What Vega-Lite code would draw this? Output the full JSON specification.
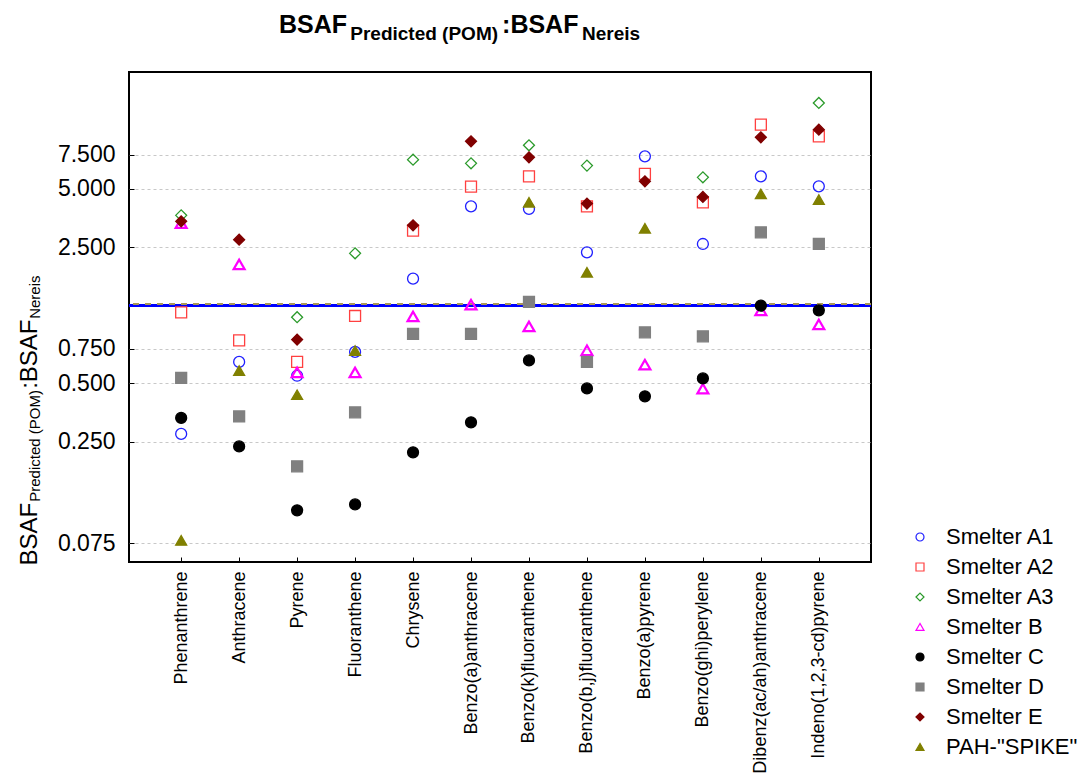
{
  "$schema": "https://vega.github.io/schema/vega-lite/v6.json",
  "width": 742,
  "height": 490,
  "autosize": {"type": "none"},
  "padding": {"left": 129, "top": 72, "right": 218, "bottom": 216},
  "background": "white",
  "config": {
    "view": {"stroke": "black", "strokeWidth": 2},
    "font": "Liberation Sans"
  },
  "title": {
    "text": "BSAF\u2003\u2003\u2003\u2003\u2003\u2003\u2009:BSAF",
    "subtitle": "\u200b\u2003\u2003\u2003\u2002\u2005Predicted (POM)\u2003\u2003\u2003\u2003\u2005\u2006Nereis",
    "anchor": "start",
    "frame": "group",
    "dx": 150,
    "offset": 28,
    "font": "Liberation Sans",
    "fontSize": 25,
    "fontWeight": "bold",
    "color": "black",
    "subtitleFont": "Liberation Sans",
    "subtitleFontSize": 19,
    "subtitleFontWeight": "bold",
    "subtitleColor": "black",
    "subtitlePadding": -13.25
  },
  "data": {
    "values": [
      {"compound": "Phenanthrene", "series": "Smelter A1", "value": 0.274},
      {"compound": "Anthracene", "series": "Smelter A1", "value": 0.643},
      {"compound": "Pyrene", "series": "Smelter A1", "value": 0.546},
      {"compound": "Fluoranthene", "series": "Smelter A1", "value": 0.724},
      {"compound": "Chrysene", "series": "Smelter A1", "value": 1.726},
      {"compound": "Benzo(a)anthracene", "series": "Smelter A1", "value": 4.069},
      {"compound": "Benzo(k)fluoranthene", "series": "Smelter A1", "value": 3.945},
      {"compound": "Benzo(b,j)fluoranthene", "series": "Smelter A1", "value": 2.358},
      {"compound": "Benzo(a)pyrene", "series": "Smelter A1", "value": 7.359},
      {"compound": "Benzo(ghi)perylene", "series": "Smelter A1", "value": 2.604},
      {"compound": "Dibenz(ac/ah)anthracene", "series": "Smelter A1", "value": 5.805},
      {"compound": "Indeno(1,2,3-cd)pyrene", "series": "Smelter A1", "value": 5.157},

      {"compound": "Phenanthrene", "series": "Smelter A2", "value": 1.157},
      {"compound": "Anthracene", "series": "Smelter A2", "value": 0.831},
      {"compound": "Pyrene", "series": "Smelter A2", "value": 0.643},
      {"compound": "Fluoranthene", "series": "Smelter A2", "value": 1.109},
      {"compound": "Chrysene", "series": "Smelter A2", "value": 3.05},
      {"compound": "Benzo(a)anthracene", "series": "Smelter A2", "value": 5.138},
      {"compound": "Benzo(k)fluoranthene", "series": "Smelter A2", "value": 5.805},
      {"compound": "Benzo(b,j)fluoranthene", "series": "Smelter A2", "value": 4.069},
      {"compound": "Benzo(a)pyrene", "series": "Smelter A2", "value": 5.973},
      {"compound": "Benzo(ghi)perylene", "series": "Smelter A2", "value": 4.266},
      {"compound": "Dibenz(ac/ah)anthracene", "series": "Smelter A2", "value": 10.72},
      {"compound": "Indeno(1,2,3-cd)pyrene", "series": "Smelter A2", "value": 9.328},

      {"compound": "Phenanthrene", "series": "Smelter A3", "value": 3.656},
      {"compound": "Pyrene", "series": "Smelter A3", "value": 1.093},
      {"compound": "Fluoranthene", "series": "Smelter A3", "value": 2.33},
      {"compound": "Chrysene", "series": "Smelter A3", "value": 7.075},
      {"compound": "Benzo(a)anthracene", "series": "Smelter A3", "value": 6.772},
      {"compound": "Benzo(k)fluoranthene", "series": "Smelter A3", "value": 8.385},
      {"compound": "Benzo(b,j)fluoranthene", "series": "Smelter A3", "value": 6.592},
      {"compound": "Benzo(ghi)perylene", "series": "Smelter A3", "value": 5.737},
      {"compound": "Indeno(1,2,3-cd)pyrene", "series": "Smelter A3", "value": 13.86},

      {"compound": "Phenanthrene", "series": "Smelter B", "value": 3.333},
      {"compound": "Anthracene", "series": "Smelter B", "value": 2.045},
      {"compound": "Pyrene", "series": "Smelter B", "value": 0.568},
      {"compound": "Fluoranthene", "series": "Smelter B", "value": 0.568},
      {"compound": "Chrysene", "series": "Smelter B", "value": 1.104},
      {"compound": "Benzo(a)anthracene", "series": "Smelter B", "value": 1.268},
      {"compound": "Benzo(k)fluoranthene", "series": "Smelter B", "value": 0.98},
      {"compound": "Benzo(b,j)fluoranthene", "series": "Smelter B", "value": 0.738},
      {"compound": "Benzo(a)pyrene", "series": "Smelter B", "value": 0.623},
      {"compound": "Benzo(ghi)perylene", "series": "Smelter B", "value": 0.4685},
      {"compound": "Dibenz(ac/ah)anthracene", "series": "Smelter B", "value": 1.185},
      {"compound": "Indeno(1,2,3-cd)pyrene", "series": "Smelter B", "value": 1.004},

      {"compound": "Phenanthrene", "series": "Smelter C", "value": 0.331},
      {"compound": "Anthracene", "series": "Smelter C", "value": 0.2363},
      {"compound": "Pyrene", "series": "Smelter C", "value": 0.1107},
      {"compound": "Fluoranthene", "series": "Smelter C", "value": 0.1188},
      {"compound": "Chrysene", "series": "Smelter C", "value": 0.2202},
      {"compound": "Benzo(a)anthracene", "series": "Smelter C", "value": 0.3142},
      {"compound": "Benzo(k)fluoranthene", "series": "Smelter C", "value": 0.655},
      {"compound": "Benzo(b,j)fluoranthene", "series": "Smelter C", "value": 0.47},
      {"compound": "Benzo(a)pyrene", "series": "Smelter C", "value": 0.4276},
      {"compound": "Benzo(ghi)perylene", "series": "Smelter C", "value": 0.529},
      {"compound": "Dibenz(ac/ah)anthracene", "series": "Smelter C", "value": 1.253},
      {"compound": "Indeno(1,2,3-cd)pyrene", "series": "Smelter C", "value": 1.185},

      {"compound": "Phenanthrene", "series": "Smelter D", "value": 0.532},
      {"compound": "Anthracene", "series": "Smelter D", "value": 0.337},
      {"compound": "Pyrene", "series": "Smelter D", "value": 0.1865},
      {"compound": "Fluoranthene", "series": "Smelter D", "value": 0.3537},
      {"compound": "Chrysene", "series": "Smelter D", "value": 0.896},
      {"compound": "Benzo(a)anthracene", "series": "Smelter D", "value": 0.896},
      {"compound": "Benzo(k)fluoranthene", "series": "Smelter D", "value": 1.309},
      {"compound": "Benzo(b,j)fluoranthene", "series": "Smelter D", "value": 0.643},
      {"compound": "Benzo(a)pyrene", "series": "Smelter D", "value": 0.913},
      {"compound": "Benzo(ghi)perylene", "series": "Smelter D", "value": 0.871},
      {"compound": "Dibenz(ac/ah)anthracene", "series": "Smelter D", "value": 2.989},
      {"compound": "Indeno(1,2,3-cd)pyrene", "series": "Smelter D", "value": 2.604},

      {"compound": "Phenanthrene", "series": "Smelter E", "value": 3.405},
      {"compound": "Anthracene", "series": "Smelter E", "value": 2.741},
      {"compound": "Pyrene", "series": "Smelter E", "value": 0.838},
      {"compound": "Chrysene", "series": "Smelter E", "value": 3.248},
      {"compound": "Benzo(a)anthracene", "series": "Smelter E", "value": 8.794},
      {"compound": "Benzo(k)fluoranthene", "series": "Smelter E", "value": 7.272},
      {"compound": "Benzo(b,j)fluoranthene", "series": "Smelter E", "value": 4.201},
      {"compound": "Benzo(a)pyrene", "series": "Smelter E", "value": 5.472},
      {"compound": "Benzo(ghi)perylene", "series": "Smelter E", "value": 4.548},
      {"compound": "Dibenz(ac/ah)anthracene", "series": "Smelter E", "value": 9.219},
      {"compound": "Indeno(1,2,3-cd)pyrene", "series": "Smelter E", "value": 10.1},

      {"compound": "Phenanthrene", "series": "PAH-\"SPIKE\"", "value": 0.0775},
      {"compound": "Anthracene", "series": "PAH-\"SPIKE\"", "value": 0.58},
      {"compound": "Pyrene", "series": "PAH-\"SPIKE\"", "value": 0.436},
      {"compound": "Fluoranthene", "series": "PAH-\"SPIKE\"", "value": 0.735},
      {"compound": "Benzo(k)fluoranthene", "series": "PAH-\"SPIKE\"", "value": 4.266},
      {"compound": "Benzo(b,j)fluoranthene", "series": "PAH-\"SPIKE\"", "value": 1.86},
      {"compound": "Benzo(a)pyrene", "series": "PAH-\"SPIKE\"", "value": 3.134},
      {"compound": "Dibenz(ac/ah)anthracene", "series": "PAH-\"SPIKE\"", "value": 4.712},
      {"compound": "Indeno(1,2,3-cd)pyrene", "series": "PAH-\"SPIKE\"", "value": 4.404}
    ]
  },
  "layer": [
    {
      "mark": {"type": "rule", "color": "#0000ff", "strokeWidth": 2.5},
      "encoding": {"y": {"datum": 1.258, "type": "quantitative"}}
    },
    {
      "mark": {"type": "rule", "color": "#a89a5a", "strokeWidth": 1, "strokeDash": [6, 6]},
      "encoding": {"y": {"datum": 1.272, "type": "quantitative"}}
    },
    {
      "mark": {"type": "point", "opacity": 1, "size": 120},
      "encoding": {
        "x": {
          "field": "compound",
          "type": "nominal",
          "sort": ["Phenanthrene", "Anthracene", "Pyrene", "Fluoranthene", "Chrysene", "Benzo(a)anthracene", "Benzo(k)fluoranthene", "Benzo(b,j)fluoranthene", "Benzo(a)pyrene", "Benzo(ghi)perylene", "Dibenz(ac/ah)anthracene", "Indeno(1,2,3-cd)pyrene"],
          "scale": {"type": "point", "padding": 0.9},
          "axis": {
            "title": "\u200b\u2003\u2003\u2003\u2003\u2005Predicted (POM)\u2003\u2003\u2003\u2003\u2002\u2005Nereis",
            "titleFont": "Liberation Sans",
            "titleFontSize": 15,
            "titleFontWeight": "normal",
            "titleColor": "black",
            "titleAngle": 270,
            "titleAlign": "left",
            "titleBaseline": "alphabetic",
            "titleX": -90,
            "titleY": 3,
            "labelAngle": -90,
            "labelFont": "Liberation Sans",
            "labelFontSize": 18,
            "labelColor": "black",
            "labelLimit": 400,
            "labelPadding": 14,
            "tickSize": -5,
            "tickColor": "black",
            "tickWidth": 1,
            "domain": false,
            "grid": false
          }
        },
        "y": {
          "field": "value",
          "type": "quantitative",
          "scale": {"type": "log", "domain": [0.06, 20], "nice": false},
          "axis": {
            "title": "BSAF\u2003\u2003\u2003\u2003\u2002\u2005:BSAF",
            "titleFont": "Liberation Sans",
            "titleFontSize": 24,
            "titleFontWeight": "normal",
            "titleColor": "black",
            "titleAngle": 270,
            "titleAlign": "left",
            "titleBaseline": "alphabetic",
            "titleX": -93,
            "titleY": 493,
            "values": [0.075, 0.25, 0.5, 0.75, 2.5, 5, 7.5],
            "format": ".3f",
            "labelFont": "Liberation Sans",
            "labelFontSize": 23,
            "labelColor": "black",
            "labelPadding": 19,
            "tickSize": -5,
            "tickColor": "black",
            "domain": false,
            "grid": true,
            "gridColor": "#c8c8c8",
            "gridDash": [3, 3],
            "gridWidth": 1
          }
        },
        "strokeWidth": {
          "condition": {"test": "datum.series === 'Smelter B'", "value": 2.2},
          "value": 1.3
        },
        "shape": {
          "field": "series",
          "type": "nominal",
          "scale": {
            "domain": ["Smelter A1", "Smelter A2", "Smelter A3", "Smelter B", "Smelter C", "Smelter D", "Smelter E", "PAH-\"SPIKE\""],
            "range": ["circle", "square", "diamond", "triangle-up", "circle", "square", "diamond", "triangle-up"]
          },
          "legend": {
            "orient": "none",
            "legendX": 780,
            "legendY": 454,
            "title": null,
            "labelFont": "Liberation Sans",
            "labelFontSize": 22,
            "labelColor": "black",
            "labelLimit": 300,
            "symbolSize": 64,
            "rowPadding": 8,
            "labelOffset": 15,
            "symbolStrokeWidth": 1.2
          }
        },
        "stroke": {
          "field": "series",
          "type": "nominal",
          "scale": {
            "domain": ["Smelter A1", "Smelter A2", "Smelter A3", "Smelter B", "Smelter C", "Smelter D", "Smelter E", "PAH-\"SPIKE\""],
            "range": ["#2020ff", "#ff4040", "#2a9a2a", "#ff00ff", "#000000", "#808080", "#800000", "#808000"]
          },
          "legend": {
            "orient": "none",
            "legendX": 780,
            "legendY": 454,
            "title": null,
            "labelFont": "Liberation Sans",
            "labelFontSize": 22,
            "labelColor": "black",
            "labelLimit": 300,
            "symbolSize": 64,
            "rowPadding": 8,
            "labelOffset": 15,
            "symbolStrokeWidth": 1.2
          }
        },
        "fill": {
          "field": "series",
          "type": "nominal",
          "scale": {
            "domain": ["Smelter A1", "Smelter A2", "Smelter A3", "Smelter B", "Smelter C", "Smelter D", "Smelter E", "PAH-\"SPIKE\""],
            "range": ["transparent", "transparent", "transparent", "transparent", "#000000", "#808080", "#800000", "#808000"]
          },
          "legend": {
            "orient": "none",
            "legendX": 780,
            "legendY": 454,
            "title": null,
            "labelFont": "Liberation Sans",
            "labelFontSize": 22,
            "labelColor": "black",
            "labelLimit": 300,
            "symbolSize": 64,
            "rowPadding": 8,
            "labelOffset": 15,
            "symbolStrokeWidth": 1.2
          }
        }
      }
    }
  ]
}
